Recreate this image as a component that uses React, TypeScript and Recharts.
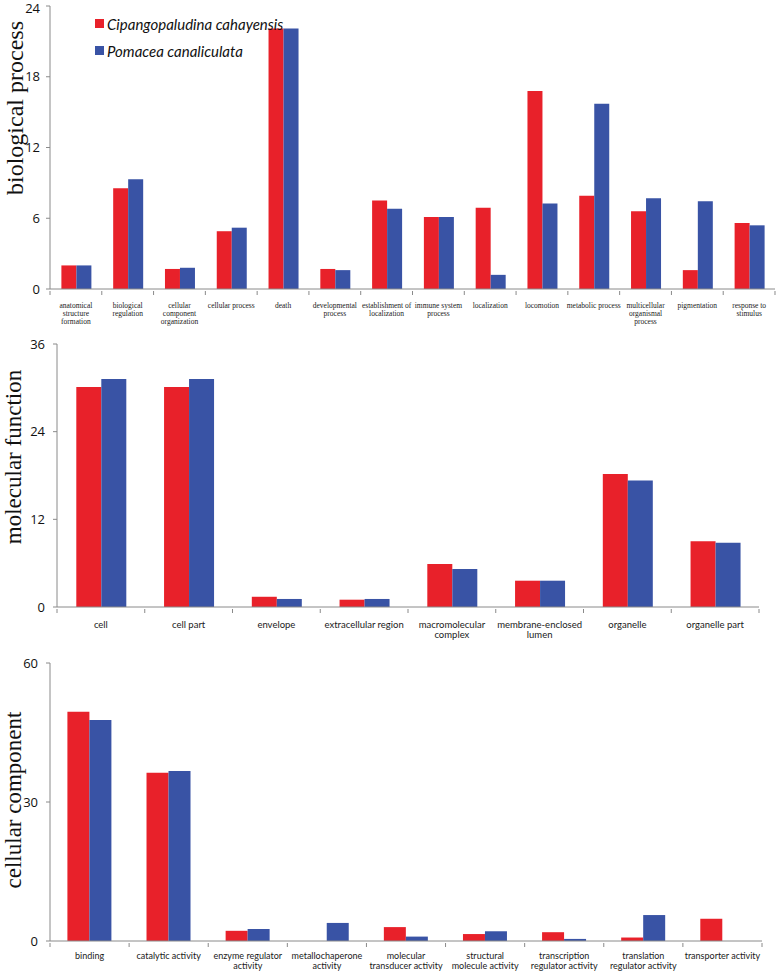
import React from 'react'
import { BarChart, Bar, XAxis, YAxis, Legend } from 'recharts'

const RED = '#E8212A'
const BLUE = '#3953A5'
const AXIS = '#8A8A8A'

const seriesNames = ['Cipangopaludina cahayensis', 'Pomacea canaliculata']

// biological process
const bpCategories = [
  'anatomical\nstructure\nformation',
  'biological\nregulation',
  'cellular\ncomponent\norganization',
  'cellular process',
  'death',
  'developmental\nprocess',
  'establishment of\nlocalization',
  'immune system\nprocess',
  'localization',
  'locomotion',
  'metabolic process',
  'multicellular\norganismal\nprocess',
  'pigmentation',
  'response to\nstimulus',
]
const bpCipango = [2.0, 8.55, 1.7, 4.9, 22.1, 1.7, 7.5, 6.1, 6.9, 16.8, 7.9, 6.6, 1.6, 5.6]
const bpPomacea = [2.0, 9.3, 1.8, 5.2, 22.1, 1.6, 6.8, 6.1, 1.2, 7.25, 15.7, 7.7, 7.45, 5.4]
const bpTicks = [0, 6, 12, 18, 24]

// molecular function
const mfCategories = [
  'cell',
  'cell part',
  'envelope',
  'extracellular region',
  'macromolecular\ncomplex',
  'membrane-enclosed\nlumen',
  'organelle',
  'organelle part',
]
const mfCipango = [30.1, 30.1, 1.4, 1.0, 5.9, 3.6, 18.2, 9.0]
const mfPomacea = [31.2, 31.2, 1.1, 1.1, 5.2, 3.6, 17.3, 8.8]
const mfTicks = [0, 12, 24, 36]

// cellular component
const ccCategories = [
  'binding',
  'catalytic activity',
  'enzyme regulator\nactivity',
  'metallochaperone\nactivity',
  'molecular\ntransducer activity',
  'structural\nmolecule activity',
  'transcription\nregulator activity',
  'translation\nregulator activity',
  'transporter activity',
]
const ccCipango = [49.5, 36.3, 2.2, 0, 3.0, 1.5, 1.9, 0.75, 4.8]
const ccPomacea = [47.7, 36.7, 2.6, 3.9, 0.95, 2.1, 0.45, 5.6, 0]
const ccTicks = [0, 30, 60]

const toRows = (cats: string[], a: number[], b: number[]) =>
  cats.map((name, i) => ({ name, cip: a[i], pom: b[i] }))

function CategoryTick(props: any) {
  const { x, y, payload, index, visibleTicksCount, fontFamily, fontSize, lineHeight, half, firstLine } = props
  const lines = String(payload.value).split('\n')
  const h = payload.offset || half
  return (
    <g transform={`translate(${x},${y})`}>
      <line x1={-h} x2={-h} y1={0} y2={4} stroke={AXIS} />
      {index === visibleTicksCount - 1 && <line x1={h} x2={h} y1={0} y2={4} stroke={AXIS} />}
      <text textAnchor="middle" fill="#1a1a1a" fontFamily={fontFamily} fontSize={fontSize}>
        {lines.map((l, i) => (
          <tspan key={i} x={0} y={firstLine + i * lineHeight}>
            {l}
          </tspan>
        ))}
      </text>
    </g>
  )
}

function LegendBox() {
  const colors = [RED, BLUE]
  return (
    <div style={{ fontFamily: 'Lato, sans-serif', fontStyle: 'italic', fontSize: 15, color: '#111' }}>
      {seriesNames.map((n, i) => (
        <div key={n} style={{ display: 'flex', alignItems: 'center', height: 27 }}>
          <span style={{ width: 9, height: 9, background: colors[i], marginRight: 3 }} />
          <span>{n}</span>
        </div>
      ))}
    </div>
  )
}

type PanelProps = {
  rows: { name: string; cip: number; pom: number }[]
  ticks: number[]
  title: string
  titleX: number
  titleY: number
  titleSize: number
  top: number
  height: number
  margin: { top: number; right: number; bottom: number; left: number }
  yWidth: number
  xHeight: number
  tickFont: string
  tickSize: number
  lineHeight: number
  firstLine: number
  labelGap: number
  legend?: boolean
}

function Panel(p: PanelProps) {
  const half = (778 - p.yWidth - p.margin.right - p.margin.left) / p.rows.length / 2
  return (
    <div style={{ position: 'absolute', left: 0, top: p.top }}>
      <BarChart
        width={778}
        height={p.height}
        data={p.rows}
        margin={p.margin}
        barCategoryGap="22%"
        barGap={0}
      >
        <XAxis
          dataKey="name"
          interval={0}
          height={p.xHeight}
          stroke={AXIS}
          tickLine={false}
          tickSize={0}
          tick={
            <CategoryTick
              fontFamily={p.tickFont}
              fontSize={p.tickSize}
              lineHeight={p.lineHeight}
              firstLine={p.firstLine}
              half={half}
            />
          }
        />
        <YAxis
          domain={[p.ticks[0], p.ticks[p.ticks.length - 1]]}
          ticks={p.ticks}
          width={p.yWidth}
          stroke={AXIS}
          tickSize={4}
          tickMargin={p.labelGap}
          tick={{ fill: '#111', fontSize: 13, fontFamily: 'Open Sans, sans-serif' }}
          label={{
            content: () => (
              <text
                transform={`translate(${p.titleX},${p.titleY}) rotate(-90)`}
                textAnchor="middle"
                dominantBaseline="central"
                fontFamily="'Liberation Serif', serif"
                fontSize={p.titleSize}
                fill="#111"
              >
                {p.title}
              </text>
            ),
          }}
        />
        {p.legend && (
          <Legend
            layout="horizontal"
            verticalAlign="middle"
            align="center"
            content={() => <LegendBox />}
            wrapperStyle={{ top: 10, left: 95, width: 260, height: 54 }}
          />
        )}
        <Bar dataKey="cip" name={seriesNames[0]} fill={RED} isAnimationActive={false} />
        <Bar dataKey="pom" name={seriesNames[1]} fill={BLUE} isAnimationActive={false} />
      </BarChart>
    </div>
  )
}

export default function App() {
  return (
    <div style={{ position: 'absolute', left: 0, top: 0, width: 778, height: 972, background: '#fff' }}>
      <Panel
        rows={toRows(bpCategories, bpCipango, bpPomacea)}
        ticks={bpTicks}
        title="biological process"
        titleX={15}
        titleY={108}
        titleSize={24}
        top={0}
        height={330}
        margin={{ top: 6, right: 3, bottom: 0, left: 0 }}
        yWidth={50}
        xHeight={41}
        tickFont="'Liberation Serif', serif"
        tickSize={7.5}
        lineHeight={8}
        firstLine={17}
        labelGap={6}
        legend
      />
      <Panel
        rows={toRows(mfCategories, mfCipango, mfPomacea)}
        ticks={mfTicks}
        title="molecular function"
        titleX={13}
        titleY={127}
        titleSize={23}
        top={330}
        height={310}
        margin={{ top: 14, right: 19, bottom: 0, left: 0 }}
        yWidth={57}
        xHeight={33}
        tickFont="Lato, sans-serif"
        tickSize={9.5}
        lineHeight={10}
        firstLine={19}
        labelGap={8}
      />
      <Panel
        rows={toRows(ccCategories, ccCipango, ccPomacea)}
        ticks={ccTicks}
        title="cellular component"
        titleX={13}
        titleY={160}
        titleSize={23}
        top={640}
        height={332}
        margin={{ top: 23, right: 16, bottom: 0, left: 0 }}
        yWidth={50}
        xHeight={31}
        tickFont="Lato, sans-serif"
        tickSize={9}
        lineHeight={10}
        firstLine={16}
        labelGap={8}
      />
    </div>
  )
}
